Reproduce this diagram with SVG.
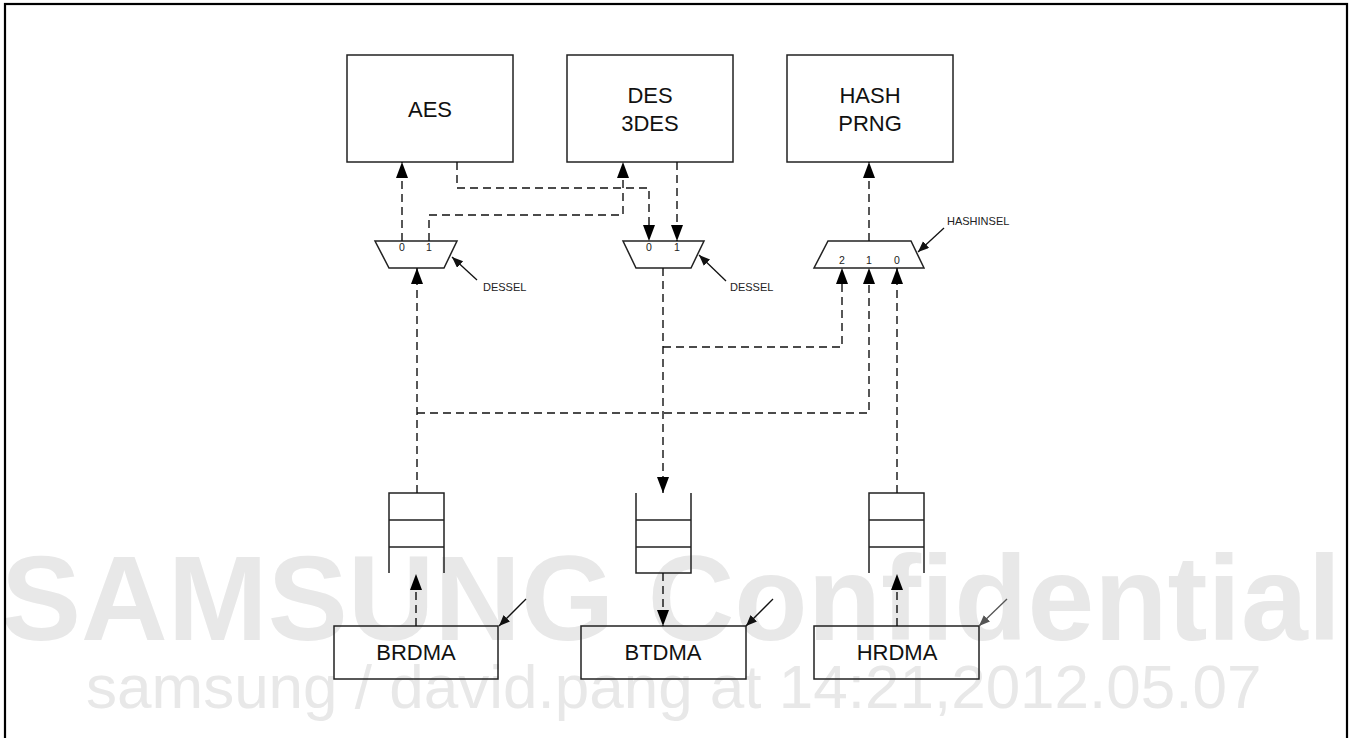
<svg xmlns="http://www.w3.org/2000/svg" width="1354" height="738" viewBox="0 0 1354 738">
<defs>
<marker id="ah" markerUnits="userSpaceOnUse" markerWidth="17" markerHeight="13" refX="16" refY="6" orient="auto">
<path d="M0,0 L16,6 L0,12 z" fill="#000" stroke="none"/>
</marker>
<marker id="as" markerUnits="userSpaceOnUse" markerWidth="12" markerHeight="10" refX="11" refY="4.5" orient="auto">
<path d="M0,0 L11,4.5 L0,9 z" fill="#111" stroke="none"/>
</marker>
<marker id="asg" markerUnits="userSpaceOnUse" markerWidth="12" markerHeight="10" refX="11" refY="4.5" orient="auto">
<path d="M0,0 L11,4.5 L0,9 z" fill="#555" stroke="none"/>
</marker>
</defs>
<style>
.wm1{font-family:"Liberation Sans",Arial,sans-serif;font-weight:bold;font-size:120px;fill:#e8e8e8}
.wm2{font-family:"Liberation Sans",Arial,sans-serif;font-size:62px;fill:#e8e8e8}
.box{fill:none;stroke:#222;stroke-width:1.5}
.t{font-family:"Liberation Sans",Arial,sans-serif;font-size:22px;fill:#111;text-anchor:middle}
.s{font-family:"Liberation Sans",Arial,sans-serif;font-size:11px;fill:#222}
.n{font-family:"Liberation Sans",Arial,sans-serif;font-size:10.5px;fill:#222;text-anchor:middle}
.d{fill:none;stroke:#111;stroke-width:1.4;stroke-dasharray:8 5}
.sel{fill:none;stroke:#111;stroke-width:1.3}
</style>
<rect x="0" y="0" width="1354" height="738" fill="#fff"/>
<g id="watermark">
<text class="wm1" x="1" y="640">SAMSUNG Confidential</text>
<text class="wm2" x="86" y="708">samsung / david.pang at 14:21,2012.05.07</text>
</g>
<rect x="5" y="4" width="1342" height="740" fill="none" stroke="#000" stroke-width="2.2"/>
<g id="AES"><rect class="box" x="347" y="55" width="166" height="107"/><text class="t" x="430" y="117">AES</text></g>
<g id="DES"><rect class="box" x="567" y="55" width="166" height="107"/><text class="t" x="650" y="103">DES</text><text class="t" x="650" y="131">3DES</text></g>
<g id="HASH"><rect class="box" x="787" y="55" width="166" height="107"/><text class="t" x="870" y="103">HASH</text><text class="t" x="870" y="131">PRNG</text></g>
<g id="mux1"><polygon class="box" points="375,241 457,241 444,268 389,268"/><text class="n" x="402" y="251">0</text><text class="n" x="429" y="251">1</text></g>
<g id="mux2"><polygon class="box" points="623,241 704,241 691,268 636,268"/><text class="n" x="649" y="251">0</text><text class="n" x="677" y="251">1</text></g>
<g id="mux3"><polygon class="box" points="828,241 911,241 924,268 814,268"/><text class="n" x="842" y="264">2</text><text class="n" x="869" y="264">1</text><text class="n" x="897" y="264">0</text></g>
<g id="dessel1"><text class="s" x="483" y="291">DESSEL</text></g>
<g id="dessel2"><text class="s" x="730" y="291">DESSEL</text></g>
<g id="hashinsel"><text class="s" x="947" y="225">HASHINSEL</text></g>
<g id="fifo1"><path class="box" d="M389,573 V493 H444 V573 M389,520 H444 M389,547 H444"/></g>
<g id="fifo2"><path class="box" d="M636,493 V573 H691 V493 M636,520 H691 M636,547 H691"/></g>
<g id="fifo3"><path class="box" d="M869,573 V493 H924 V573 M869,520 H924 M869,547 H924"/></g>
<g id="BRDMA"><rect class="box" x="334" y="626" width="164" height="53"/><text class="t" x="416" y="660">BRDMA</text></g>
<g id="BTDMA"><rect class="box" x="581" y="626" width="165" height="53"/><text class="t" x="663" y="660">BTDMA</text></g>
<g id="HRDMA"><rect class="box" x="814" y="626" width="165" height="53"/><text class="t" x="897" y="660">HRDMA</text></g>
<g id="connectors">
<path class="d" d="M402,241 V162" marker-end="url(#ah)"/>
<path class="d" d="M429,241 V215 H623 V162" marker-end="url(#ah)"/>
<path class="d" d="M457,162 V188 H649 V241" marker-end="url(#ah)"/>
<path class="d" d="M677,162 V241" marker-end="url(#ah)"/>
<path class="d" d="M869,241 V162" marker-end="url(#ah)"/>
<path class="d" d="M417,493 V268" marker-end="url(#ah)"/>
<path class="d" d="M417,413 H869 V268" marker-end="url(#ah)"/>
<path class="d" d="M663,268 V493" marker-end="url(#ah)"/>
<path class="d" d="M663,347 H842 V268" marker-end="url(#ah)"/>
<path class="d" d="M897,493 V268" marker-end="url(#ah)"/>
<path class="d" d="M416,626 V574" marker-end="url(#ah)"/>
<path class="d" d="M663,573 V626" marker-end="url(#ah)"/>
<path class="d" d="M897,626 V574" marker-end="url(#ah)"/>
<path class="sel" d="M477,280 L452,257" marker-end="url(#as)"/>
<path class="sel" d="M726,281 L699,255" marker-end="url(#as)"/>
<path class="sel" d="M944,228 L918,252" marker-end="url(#as)"/>
<path class="sel" d="M526,599 L499,626" marker-end="url(#as)"/>
<path class="sel" d="M773,599 L746,626" marker-end="url(#as)"/>
<path d="M1007,599 L979,626" fill="none" stroke="#555" stroke-width="1.3" marker-end="url(#asg)"/>
</g>
</svg>
